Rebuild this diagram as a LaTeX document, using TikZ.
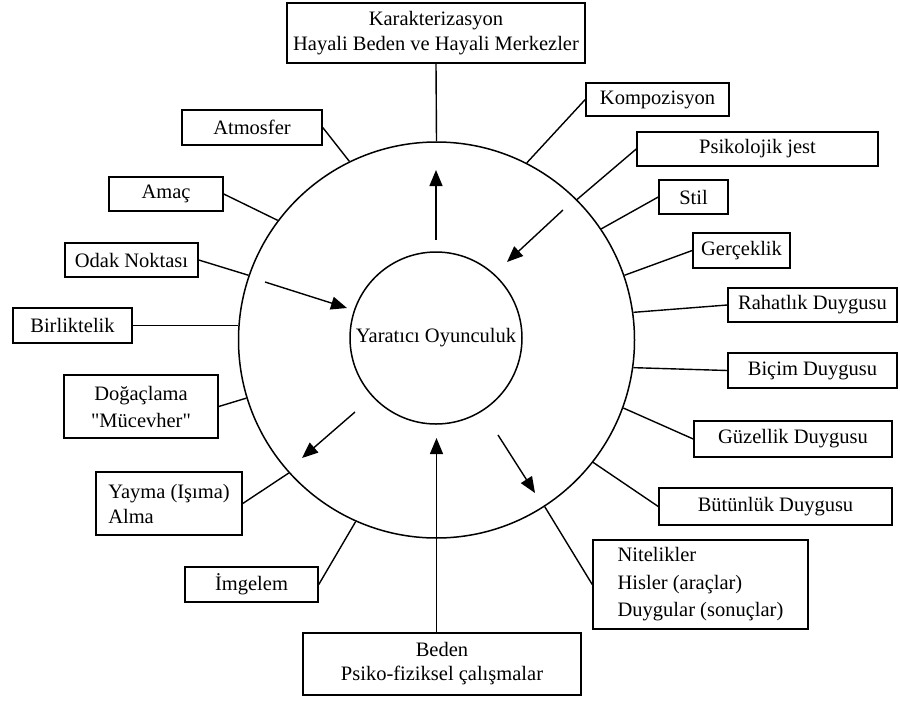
\documentclass[tikz,border=0pt]{standalone}
\usepackage{fontspec}
\setmainfont{Liberation Serif}
\usetikzlibrary{arrows.meta,calc}
\begin{document}
\begin{tikzpicture}[x=1pt,y=-1pt,
  box/.style={draw, line width=1.5pt, inner sep=0pt, font=\fontsize{20.5}{25}\selectfont, align=center},
  conn/.style={line width=1.4pt},
  ring/.style={circle, draw, line width=1.5pt, inner sep=0pt},
  arr/.style={line width=1.4pt, -{Triangle[length=16pt,width=13pt]}}]
\useasboundingbox (0,0) rectangle (900,702);
% circles
\node[ring, minimum size=396pt] (outer) at (436.5,340) {};
\node[ring, minimum size=172pt, font=\fontsize{20.5}{25}\selectfont] (inner) at (436,338) {Yaratıcı Oyunculuk};
% boxes
\node[box, minimum width=298pt, minimum height=60pt] (karakter) at (436,33) {Karakterizasyon\\Hayali Beden ve Hayali Merkezler};
\node[box, minimum width=143pt, minimum height=33pt] (kompoz) at (657.5,99.5) {Kompozisyon};
\node[box, minimum width=241pt, minimum height=34pt] (psiko) at (757.5,149) {Psikolojik jest};
\node[box, minimum width=69pt, minimum height=34pt] (stil) at (693.5,197) {Stil};
\node[box, minimum width=97pt, minimum height=35pt] (gercek) at (741.5,250.5) {Gerçeklik};
\node[box, minimum width=169pt, minimum height=34pt] (rahat) at (812.5,305) {Rahatlık Duygusu};
\node[box, minimum width=169pt, minimum height=35pt] (bicim) at (812.5,370.5) {Biçim Duygusu};
\node[box, minimum width=198pt, minimum height=36pt] (guzel) at (793,439) {Güzellik Duygusu};
\node[box, minimum width=233pt, minimum height=37pt] (butun) at (775.5,506.5) {Bütünlük Duygusu};
\node[box, minimum width=215pt, minimum height=89pt, align=left, font=\fontsize{20.5}{27.5}\selectfont] (nitel) at (700.5,584.5) {Nitelikler\\Hisler (araçlar)\\Duygular (sonuçlar)};
\node[box, minimum width=278pt, minimum height=62pt, font=\fontsize{20.5}{24}\selectfont] (beden) at (442,664) {Beden\\Psiko-fiziksel çalışmalar};
\node[box, minimum width=133pt, minimum height=35pt] (imgelem) at (251.5,584.5) {İmgelem};
\node[box, minimum width=146pt, minimum height=63pt, align=left] (yayma) at (169,503.5) {Yayma (Işıma)\\Alma};
\node[box, minimum width=154pt, minimum height=63pt, font=\fontsize{20.5}{27}\selectfont] (dogac) at (141,406.5) {Doğaçlama\\\textquotedbl Mücevher\textquotedbl};
\node[box, minimum width=119pt, minimum height=35pt] (birlik) at (72.5,325.5) {Birliktelik};
\node[box, minimum width=133pt, minimum height=34pt] (odak) at (131.5,260) {Odak Noktası};
\node[box, minimum width=114pt, minimum height=34pt] (amac) at (166,194) {Amaç};
\node[box, minimum width=140pt, minimum height=35pt] (atmos) at (252,127.5) {Atmosfer};
% connectors to outer ring
\draw[conn] (karakter.south) -- (outer.90);
\draw[conn] (kompoz.west) -- (outer.63.3);
\draw[conn] (psiko.west) -- (outer.45.5);
\draw[conn] (stil.west) -- (outer.34.1);
\draw[conn] (gercek.west) -- (outer.19.1);
\draw[conn] (rahat.west) -- (outer.8.2);
\draw[conn] (bicim.west) -- (outer.-8.4);
\draw[conn] (guzel.west) -- (outer.-20.6);
\draw[conn] (butun.west) -- (outer.-38.7);
\draw[conn] (nitel.west) -- (outer.-57.2);
\draw[conn] (outer.south) -- (outer.south |- beden.north);
\draw[conn] (imgelem.east) -- (outer.-114.3);
\draw[conn] (yayma.east) -- (outer.-138.2);
\draw[conn] (dogac.east) -- (outer.-163.2);
\draw[conn] (birlik.east) -- (outer.west |- birlik.east);
\draw[conn] (odak.east) -- (outer.161.2);
\draw[conn] (amac.east) -- (outer.143.5);
\draw[conn] (atmos.east) -- (outer.116.7);
% inner arrows
\coordinate (a1s) at (436,240); \coordinate (a1e) at (436,170);
\coordinate (a2s) at (563,210); \coordinate (a2e) at (507,262);
\coordinate (a3s) at (265,282); \coordinate (a3e) at (347,308);
\coordinate (a4s) at (355,412); \coordinate (a4e) at (302,458);
\coordinate (a5e) at (436.5,438);
\coordinate (a6s) at (498,435); \coordinate (a6e) at (535,493);
\draw[arr] (a1s) -- (a1e);
\draw[arr] (a2s) -- (a2e);
\draw[arr] (a3s) -- (a3e);
\draw[arr] (a4s) -- (a4e);
\draw[arr] (outer.south) -- (a5e);
\draw[arr] (a6s) -- (a6e);
\end{tikzpicture}
\end{document}
